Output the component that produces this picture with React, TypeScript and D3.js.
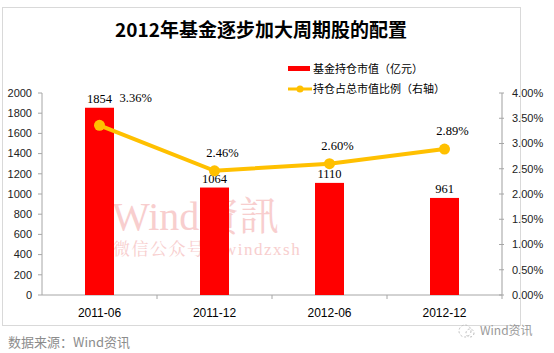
import React from "react";
import * as d3 from "d3";

// data
const periods = ["2011-06", "2011-12", "2012-06", "2012-12"];
const holdingValue = [1854, 1064, 1110, 961]; // 亿元
const holdingRatio = [3.36, 2.46, 2.6, 2.89]; // %, right axis
const leftTicks = [0, 200, 400, 600, 800, 1000, 1200, 1400, 1600, 1800, 2000];
const rightTicks = [0, 0.5, 1, 1.5, 2, 2.5, 3, 3.5, 4];

const W = 554;
const H = 353;
const plot = { left: 42, right: 502, top: 93, bottom: 295 };
const sans = "'Liberation Sans', Arial, 'Noto Sans CJK SC', sans-serif";
const serif = "'Liberation Serif', 'Times New Roman', 'Noto Serif CJK SC', serif";
const cjk = "'Noto Sans CJK SC', 'Liberation Sans', sans-serif";

const App = () => {
  const x = d3.scaleBand().domain(periods).range([plot.left, plot.right]);
  const yL = d3.scaleLinear().domain([0, 2000]).range([plot.bottom, plot.top]);
  const yR = d3.scaleLinear().domain([0, 4]).range([plot.bottom, plot.top]);
  const cx = (p) => x(p) + x.bandwidth() / 2;
  const barW = 29;

  const line = d3
    .line()
    .x((d, i) => cx(periods[i]))
    .y((d) => yR(d));

  return (
    <svg
      width={W}
      height={H}
      style={{ position: "absolute", left: 0, top: 0, background: "#fff" }}
    >
      {/* chart frame */}
      <rect x={2.5} y={7.5} width={518} height={318} fill="#fff" stroke="#d9d9d9" />

      {/* title */}
      <text
        x={261}
        y={37}
        textAnchor="middle"
        fontFamily={cjk}
        fontWeight="bold"
        fontSize={19}
        fill="#000"
      >
        2012年基金逐步加大周期股的配置
      </text>

      {/* legend */}
      <rect x={288} y={66} width={22} height={5} fill="#ff0000" />
      <text x={313} y={73} fontFamily={cjk} fontSize={11} fill="#000">
        基金持仓市值（亿元）
      </text>
      <line x1={288} x2={312} y1={89} y2={89} stroke="#ffc000" strokeWidth={3} />
      <circle cx={300} cy={89} r={3.5} fill="#ffc000" />
      <text x={313} y={93} fontFamily={cjk} fontSize={11} fill="#000">
        持仓占总市值比例（右轴）
      </text>

      {/* watermark */}
      <g fill="#f7c6c6" opacity={0.85}>
        <text x={112} y={230} fontFamily={serif} fontSize={40}>
          Wind資訊
        </text>
        <text x={113} y={255} fontFamily={serif} fontSize={17} letterSpacing={1.5}>
          微信公众号：windzxsh
        </text>
      </g>

      {/* left axis */}
      <line x1={plot.left} x2={plot.left} y1={plot.top} y2={plot.bottom} stroke="#a6a6a6" />
      {leftTicks.map((t) => (
        <g key={"l" + t}>
          <line x1={plot.left - 4} x2={plot.left} y1={yL(t)} y2={yL(t)} stroke="#a6a6a6" />
          <text
            x={plot.left - 10}
            y={yL(t)}
            dy="0.35em"
            textAnchor="end"
            fontFamily={sans}
            fontSize={11}
            fill="#222"
          >
            {t}
          </text>
        </g>
      ))}

      {/* right axis */}
      <line x1={plot.right} x2={plot.right} y1={plot.top} y2={plot.bottom} stroke="#bfbfbf" strokeWidth={1.5} />
      {rightTicks.map((t) => (
        <g key={"r" + t}>
          <line x1={plot.right - 3} x2={plot.right + 2} y1={yR(t)} y2={yR(t)} stroke="#a6a6a6" />
          <text
            x={plot.right + 10}
            y={yR(t)}
            dy="0.35em"
            fontFamily={sans}
            fontSize={11}
            fill="#222"
          >
            {t.toFixed(2) + "%"}
          </text>
        </g>
      ))}

      {/* bottom axis */}
      <line x1={plot.left} x2={plot.right} y1={plot.bottom} y2={plot.bottom} stroke="#a6a6a6" />
      {periods.map((p) => (
        <line
          key={"bt" + p}
          x1={x(p) + x.bandwidth()}
          x2={x(p) + x.bandwidth()}
          y1={plot.bottom}
          y2={plot.bottom + 4}
          stroke="#a6a6a6"
        />
      ))}
      {periods.map((p) => (
        <text
          key={"bl" + p}
          x={cx(p)}
          y={317}
          textAnchor="middle"
          fontFamily={sans}
          fontSize={12}
          fill="#000"
        >
          {p}
        </text>
      ))}

      {/* bars */}
      {periods.map((p, i) => (
        <rect
          key={"bar" + p}
          x={cx(p) - barW / 2}
          y={yL(holdingValue[i])}
          width={barW}
          height={plot.bottom - yL(holdingValue[i])}
          fill="#ff0000"
        />
      ))}
      {periods.map((p, i) => (
        <text
          key={"bv" + p}
          x={cx(p)}
          y={yL(holdingValue[i]) - 5}
          textAnchor="middle"
          fontFamily={serif}
          fontSize={12.5}
          fill="#000"
        >
          {holdingValue[i]}
        </text>
      ))}

      {/* ratio line */}
      <path d={line(holdingRatio)} fill="none" stroke="#ffc000" strokeWidth={4} />
      {periods.map((p, i) => (
        <circle key={"pt" + p} cx={cx(p)} cy={yR(holdingRatio[i])} r={5.5} fill="#ffc000" />
      ))}
      {periods.map((p, i) => (
        <text
          key={"pv" + p}
          x={i === 0 ? cx(p) + 20 : cx(p) + 8}
          y={i === 0 ? 102 : yR(holdingRatio[i]) - 14}
          textAnchor={i === 0 ? "start" : "middle"}
          fontFamily={serif}
          fontSize={12.5}
          fill="#000"
        >
          {holdingRatio[i].toFixed(2) + "%"}
        </text>
      ))}

      {/* footer */}
      <text x={8} y={347} fontFamily={cjk} fontSize={13} fill="#8c8c8c">
        数据来源：Wind资讯
      </text>
      <g stroke="#bbb" fill="none" strokeDasharray="2 2">
        <circle cx={465} cy={331} r={6} />
        <circle cx={470} cy={333} r={4} />
      </g>
      <text x={480} y={335} fontFamily={cjk} fontSize={12} fill="#999">
        Wind资讯
      </text>
    </svg>
  );
};

export default App;
